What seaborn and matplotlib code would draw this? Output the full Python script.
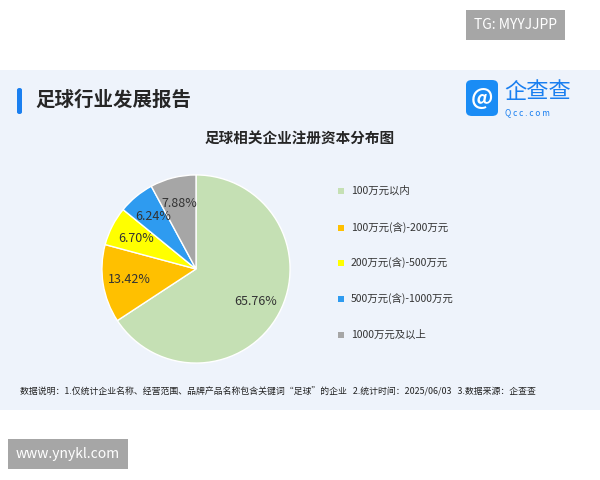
import matplotlib.pyplot as plt
import seaborn as sns
from matplotlib.patches import Rectangle, FancyBboxPatch

sns.set_theme(style="white")
plt.rcParams['font.family'] = ['Noto Sans CJK SC', 'DejaVu Sans']

categories = ['100万元以内', '100万元(含)-200万元', '200万元(含)-500万元',
              '500万元(含)-1000万元', '1000万元及以上']
shares = [65.76, 13.42, 6.70, 6.24, 7.88]
colors = ['#c5e0b4', '#ffc000', '#ffff00', '#2e9bf0', '#a6a6a6']

fig = plt.figure(figsize=(6, 4.8), dpi=100)
fig.patch.set_facecolor('white')
# panel background
bg = fig.add_axes([0, 70 / 480, 1, 340 / 480], zorder=-1)
bg.set_facecolor('#eef3fb')
bg.set_xticks([])
bg.set_yticks([])
for s in bg.spines.values():
    s.set_visible(False)

fig.patches.append(FancyBboxPatch((17 / 600, 366 / 480), 5 / 600, 26 / 480,
                                  boxstyle='round,pad=0,rounding_size=0.004',
                                  transform=fig.transFigure, facecolor='#1a7ff0',
                                  edgecolor='none'))
fig.text(35 / 600, 380 / 480, '足球行业发展报告', fontsize=14, fontweight='bold', va='center')
fig.patches.append(FancyBboxPatch((466 / 600, 364 / 480), 32 / 600, 36 / 480,
                                  boxstyle='round,pad=0,rounding_size=0.01',
                                  transform=fig.transFigure, facecolor='#1a8cf5',
                                  edgecolor='none'))
fig.text(482 / 600, 382 / 480, '@', fontsize=16, color='white', ha='center', va='center',
         fontweight='bold')
fig.text(504 / 600, 388 / 480, '企查查', fontsize=16, color='#1a7ff0', va='center')
fig.text(505 / 600, 367 / 480, 'Q c c . c o m', fontsize=6, color='#1a7ff0', va='center')
fig.text(300 / 600, 341 / 480, '足球相关企业注册资本分布图', fontsize=10.5, fontweight='bold',
         ha='center', va='center')
fig.text(20 / 600, 88 / 480,
         '数据说明：1.仅统计企业名称、经营范围、品牌产品名称包含关键词“足球”的企业   2.统计时间：2025/06/03   3.数据来源：企查查',
         fontsize=6.4, va='center', color='#222222')

# watermarks
fig.text(16 / 600, 26 / 480, 'www.ynykl.com', fontsize=10, color='white', va='center',
         bbox=dict(facecolor='#a6a6a6', edgecolor='none', pad=6))
fig.text(474 / 600, 455 / 480, 'TG: MYYJJPP', fontsize=10, color='white', va='center',
         bbox=dict(facecolor='#a6a6a6', edgecolor='none', pad=6))

ax = fig.add_axes([101 / 600, 116 / 480, 190 / 600, 190 / 480])
ax.pie(shares, colors=colors, startangle=90, counterclock=False,
       autopct='%.2f%%', pctdistance=0.72,
       wedgeprops=dict(edgecolor='white', linewidth=1),
       textprops=dict(fontsize=9, color='#333333'))
ax.set_xlim(-1.01, 1.01)
ax.set_ylim(-1.01, 1.01)
ax.set_aspect('equal')

lx = 338 / 600
ys = [289, 252, 217, 181, 145]
for c, lab, y in zip(colors, categories, ys):
    fig.patches.append(Rectangle((lx, (y - 3) / 480), 6 / 600, 6 / 480,
                                 transform=fig.transFigure, facecolor=c, edgecolor='none'))
    fig.text(lx + 13 / 600, y / 480, lab, fontsize=7.5, va='center', color='#333333')

fig.savefig('out.png', dpi=100)
